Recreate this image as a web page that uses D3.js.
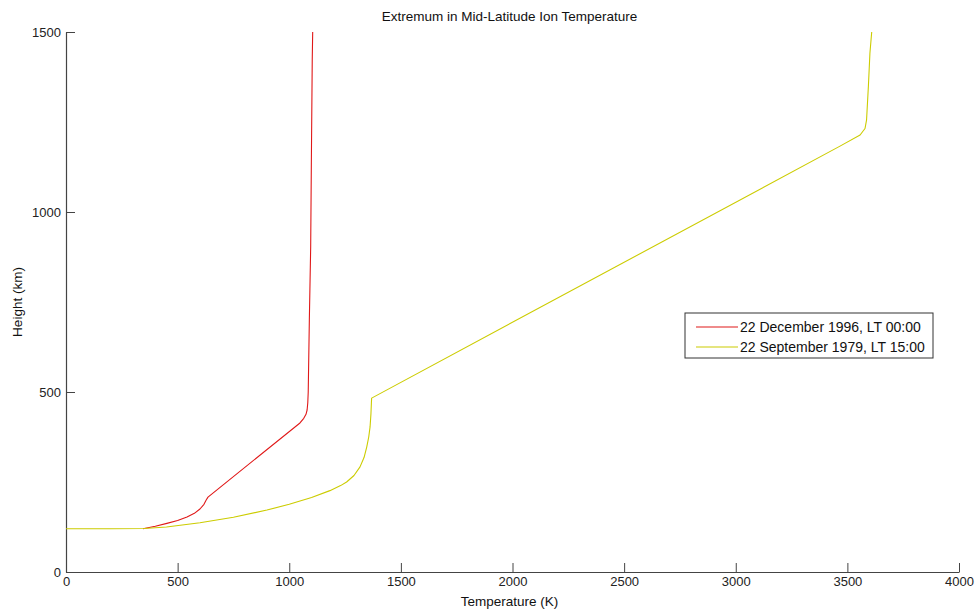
<!DOCTYPE html>
<html>
<head>
<meta charset="utf-8">
<script src="https://cdn.jsdelivr.net/npm/d3@7"></script>
<style>
  html, body { margin: 0; padding: 0; background: #fff; }
  svg { display: block; font-family: "Liberation Sans", Arial, sans-serif; }
</style>
</head>
<body>
<svg id="chart" width="975" height="609"></svg>
<script>
// Ion temperature profiles: temperature (K) vs height (km)
const decTemp   = [345, 400, 452, 500, 542, 575, 600, 618, 628, 636, 1048, 1065, 1075, 1080, 1083, 1085, 1090, 1096, 1099, 1103, 1105];
const decHeight = [120, 127, 135, 143, 153, 163, 175, 188, 200, 208, 414, 427, 438, 450, 470, 500, 700, 903, 1136, 1422, 1500];

const sepTemp   = [0, 200, 350, 450, 600, 750, 900, 1000, 1100, 1182, 1230, 1257, 1290, 1317, 1335, 1347, 1356, 1362, 1366, 1368, 1369, 3467, 3557, 3579, 3586, 3594, 3601, 3609];
const sepHeight = [120, 120, 121, 125, 137, 152, 172, 188, 207, 226, 240, 250, 268, 292, 318, 347, 375, 403, 440, 470, 483, 1183, 1214, 1232, 1256, 1348, 1441, 1500];

const seriesNames  = ["22 December 1996, LT 00:00", "22 September 1979, LT 15:00"];
const seriesColors = ["#e01818", "#cccc00"];

const xTicks = [0, 500, 1000, 1500, 2000, 2500, 3000, 3500, 4000];
const yTicks = [0, 500, 1000, 1500];

const svg = d3.select("#chart");
const plot = { left: 66, right: 959, top: 32, bottom: 572 };

const x = d3.scaleLinear().domain([0, 4000]).range([plot.left, plot.right]);
const y = d3.scaleLinear().domain([0, 1500]).range([plot.bottom, plot.top]);

const axisColor = "#444";
const font = "'Liberation Sans', Arial, sans-serif";

// Axes with inward ticks
const gx = svg.append("g").attr("transform", `translate(0,${plot.bottom})`)
  .call(d3.axisBottom(x).tickValues(xTicks).tickFormat(d3.format("d")).tickSize(-9).tickSizeOuter(0).tickPadding(4));
const gy = svg.append("g").attr("transform", `translate(${plot.left},0)`)
  .call(d3.axisLeft(y).tickValues(yTicks).tickFormat(d3.format("d")).tickSize(-9).tickSizeOuter(0).tickPadding(5));

[gx, gy].forEach(g => {
  g.select(".domain").attr("stroke", axisColor).attr("stroke-width", 1.2);
  g.selectAll(".tick line").attr("stroke", axisColor).attr("stroke-width", 1);
  g.selectAll(".tick text").attr("fill", "#222").style("font-size", "13px").style("font-family", font);
});
gx.selectAll(".tick text").attr("dy", "0.8em");

// Profiles
const line = d3.line().x(d => x(d[0])).y(d => y(d[1]));
const series = [
  d3.zip(decTemp, decHeight),
  d3.zip(sepTemp, sepHeight)
];
series.forEach((pts, i) => {
  svg.append("path")
    .datum(pts)
    .attr("fill", "none")
    .attr("stroke", seriesColors[i])
    .attr("stroke-width", 1.1)
    .attr("stroke-linejoin", "round")
    .attr("d", line);
});

// Title and axis labels
const midX = (plot.left + plot.right) / 2 - 3;
svg.append("text").attr("x", midX).attr("y", 21)
  .attr("text-anchor", "middle").style("font-size", "13.5px").attr("fill", "#111")
  .text("Extremum in Mid-Latitude Ion Temperature");
svg.append("text").attr("x", midX).attr("y", 606)
  .attr("text-anchor", "middle").style("font-size", "13.5px").attr("fill", "#111")
  .text("Temperature (K)");
svg.append("text").attr("transform", `translate(22,${(plot.top + plot.bottom) / 2}) rotate(-90)`)
  .attr("text-anchor", "middle").style("font-size", "13.5px").attr("fill", "#111")
  .text("Height (km)");

// Legend
const lg = svg.append("g").attr("transform", "translate(685,313)");
lg.append("rect").attr("width", 248).attr("height", 45)
  .attr("fill", "#fff").attr("stroke", "#333").attr("stroke-width", 1);
seriesNames.forEach((name, i) => {
  const cy = 14 + i * 20;
  lg.append("line").attr("x1", 11).attr("x2", 53).attr("y1", cy).attr("y2", cy)
    .attr("stroke", seriesColors[i]).attr("stroke-width", 1.1);
  lg.append("text").attr("x", 55).attr("y", cy).attr("dy", "0.36em")
    .style("font-size", "14px").attr("fill", "#111").text(name);
});
</script>
</body>
</html>
